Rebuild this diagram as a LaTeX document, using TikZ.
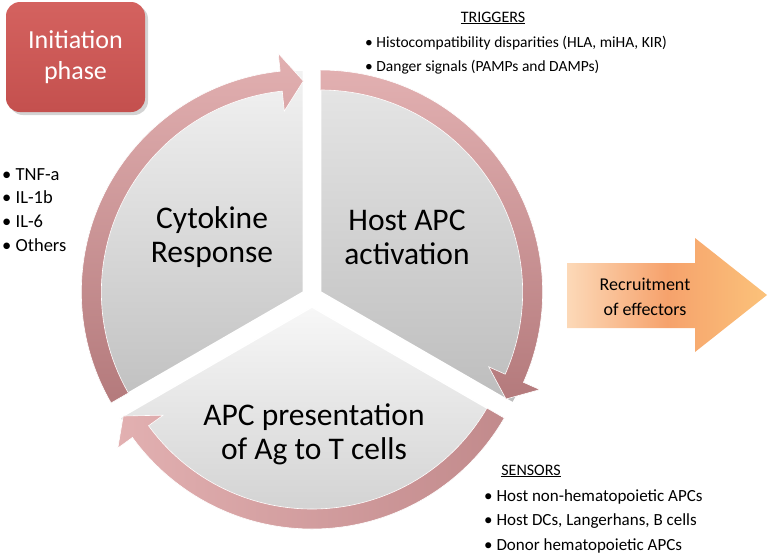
\documentclass[tikz,border=0pt]{standalone}
\usepackage{fontspec}
\setmainfont{Carlito}
\usepackage{xcolor}
\usepackage{tikz}
\usetikzlibrary{positioning, calc, shadows}

\definecolor{phasered}{HTML}{C4504E}
\definecolor{phasetop}{HTML}{D4625F}
\definecolor{ringpink}{HTML}{E2B0B1}
\definecolor{ringdark}{HTML}{B47A7C}
\definecolor{pielight}{HTML}{F2F2F2}
\definecolor{piedark}{HTML}{BDBDBD}
\definecolor{effcore}{HTML}{F6A26C}
\definecolor{effright}{HTML}{FBC27A}
\definecolor{effpale}{HTML}{FCD9B8}

\begin{document}
\begin{tikzpicture}[x=1pt, y=-1pt,
	sector/.style={draw=white, line width=1.5pt},
	ring/.style={draw=white, line width=0.6pt},
	label/.style={font=\fontsize{31.5}{34}\selectfont, align=center, inner sep=0pt},
	items/.style={align=left, inner sep=0pt, anchor=north west},
	heading/.style={font=\fontsize{16}{20}\selectfont, inner sep=0pt}]
	
	\useasboundingbox (0,0) rectangle (771,558);
	
	\coordinate (ctr) at (312,297);
	\coordinate (hostc) at ($(ctr)+(30:10pt)$);
	\coordinate (cytc) at ($(ctr)+(150:10pt)$);
	\coordinate (apcc) at ($(ctr)+(270:10pt)$);
	
	\shade[sector, top color=pielight!90!gray, bottom color=piedark] (hostc) -- ++(90:222pt) arc[start angle=90, end angle=-30, radius=222pt] -- cycle;
	\shade[sector, top color=pielight, bottom color=piedark!95!white] (cytc) -- ++(90:222pt) arc[start angle=90, end angle=210, radius=222pt] -- cycle;
	\shade[sector, top color=pielight!60!white, bottom color=piedark!80!white] (apcc) -- ++(210:222pt) arc[start angle=210, end angle=330, radius=222pt] -- cycle;
	
	\shade[ring, top color=ringpink, bottom color=ringdark] ($(cytc)+(210:222pt)$) arc[start angle=210, end angle=96, radius=222pt] -- ($(cytc)+(96:240pt)$) -- ($(cytc)+(90:211pt)$) -- ($(cytc)+(96:182pt)$) -- ($(cytc)+(96:202pt)$) arc[start angle=96, end angle=210, radius=202pt] -- cycle;
	\shade[ring, top color=ringpink, bottom color=ringdark] ($(hostc)+(90:222pt)$) arc[start angle=90, end angle=-24, radius=222pt] -- ($(hostc)+(-24:240pt)$) -- ($(hostc)+(-30:214pt)$) -- ($(hostc)+(-24:184pt)$) -- ($(hostc)+(-24:202pt)$) arc[start angle=-24, end angle=90, radius=202pt] -- cycle;
	\shade[ring, left color=ringpink, right color=ringdark!70!ringpink] ($(apcc)+(330:222pt)$) arc[start angle=330, end angle=216, radius=222pt] -- ($(apcc)+(216:240pt)$) -- ($(apcc)+(210:218pt)$) -- ($(apcc)+(216:184pt)$) -- ($(apcc)+(216:202pt)$) arc[start angle=216, end angle=330, radius=202pt] -- cycle;
	
	\node[label] (cytokine) at (212,237) {Cytokine\\Response};
	\node[label] (hostapc) at (407,237) {Host APC\\activation};
	\node[label] (presentation) at (314,434) {APC presentation\\of Ag to T cells};
	
	\node[rounded corners=14pt, minimum width=139pt, minimum height=110pt, top color=phasetop, bottom color=phasered, drop shadow={opacity=0.35, shadow xshift=3pt, shadow yshift=-3pt}, text=white, font=\fontsize{26}{31}\selectfont, align=center] (phase) at (75.5,57) {Initiation\\phase};
	
	\node[heading] (triggers) at (493,18) {\underline{TRIGGERS}};
	\node[items, font=\fontsize{15.5}{24}\selectfont] (triggerlist) at (365,36) {• Histocompatibility disparities (HLA, miHA, KIR)\\• Danger signals (PAMPs and DAMPs)};
	
	\node[items, font=\fontsize{18.5}{23.7}\selectfont] (cytokinelist) at (2,168) {• TNF-a\\• IL-1b\\• IL-6\\• Others};
	
	\node[heading] (sensors) at (531,471) {\underline{SENSORS}};
	\node[items, font=\fontsize{17}{24.5}\selectfont] (sensorlist) at (484,489) {• Host non-hematopoietic APCs\\• Host DCs, Langerhans, B cells\\• Donor hematopoietic APCs};
	
	\shade[left color=effpale, right color=effright, middle color=effcore] (567,263) -- (695,263) -- (695,238) -- (767,295) -- (695,352) -- (695,328) -- (567,328) -- cycle;
	\node[font=\fontsize{18}{25}\selectfont, align=center, inner sep=0pt] (recruit) at (645,297) {Recruitment\\of effectors};
	
\end{tikzpicture}
\end{document}
